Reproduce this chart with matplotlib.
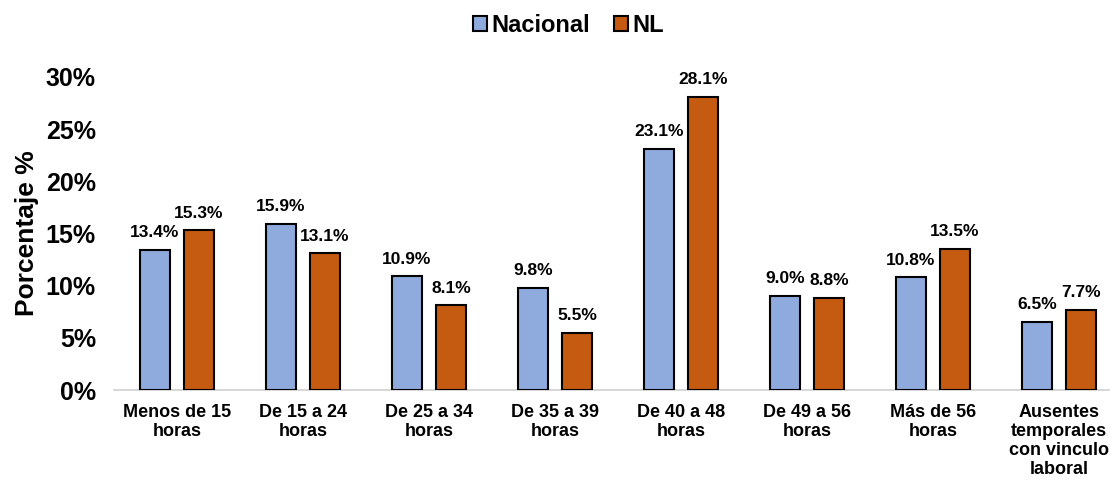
import matplotlib
matplotlib.use("Agg")
import matplotlib.pyplot as plt
import numpy as np
from matplotlib.patches import Patch

categories = ["Menos de 15\nhoras", "De 15 a 24\nhoras", "De 25 a 34\nhoras", "De 35 a 39\nhoras",
              "De 40 a 48\nhoras", "De 49 a 56\nhoras", "Más de 56\nhoras",
              "Ausentes\ntemporales\ncon vinculo\nlaboral"]
nacional = [13.4, 15.9, 10.9, 9.8, 23.1, 9.0, 10.8, 6.5]
nl = [15.3, 13.1, 8.1, 5.5, 28.1, 8.8, 13.5, 7.7]
yticks = [0, 5, 10, 15, 20, 25, 30]

plt.rcParams['font.family'] = ['Liberation Sans', 'DejaVu Sans']
fig = plt.figure(figsize=(11.1, 4.82), dpi=100)
ax = fig.add_axes([114/1110, 1-390/482, 996/1110, (390-77)/482])

x = np.arange(len(categories))
w = 0.238
off = 0.175
c1, c2 = "#8FAADC", "#C55A11"
ax.bar(x - off, nacional, w, color=c1, edgecolor="black", linewidth=1.5, zorder=3)
ax.bar(x + off, nl, w, color=c2, edgecolor="black", linewidth=1.5, zorder=3)

for xi, v in zip(x - off, nacional):
    ax.annotate(f"{v:.1f}%", (xi, v), xytext=(0, 7), textcoords="offset points",
                ha="center", va="bottom", fontsize=12.5, fontweight="bold", annotation_clip=False)
for xi, v in zip(x + off, nl):
    ax.annotate(f"{v:.1f}%", (xi, v), xytext=(0, 7), textcoords="offset points",
                ha="center", va="bottom", fontsize=12.5, fontweight="bold", annotation_clip=False)

ax.set_xlim(-0.5, 7.405)
ax.set_ylim(0, 30)
ax.set_yticks(yticks)
ax.set_yticklabels([f"{t}%" for t in yticks], fontsize=18, fontweight="bold")
ax.set_xticks(x)
ax.set_xticklabels(categories, fontsize=13, fontweight="bold", linespacing=1.15)
ax.tick_params(axis="both", length=0)
ax.tick_params(axis="x", pad=10)
ax.tick_params(axis="y", pad=13)
for s in ["top", "right", "left"]:
    ax.spines[s].set_visible(False)
ax.spines["bottom"].set_color("#D0D0D0")
ax.spines["bottom"].set_linewidth(1.2)
ax.set_ylabel("Porcentaje %", fontsize=19, fontweight="bold", labelpad=5)

handles = [Patch(facecolor=c1, edgecolor="black", linewidth=1.5, label="Nacional"),
           Patch(facecolor=c2, edgecolor="black", linewidth=1.5, label="NL")]
fig.legend(handles=handles, loc="center", bbox_to_anchor=(0.512, 1-25/482), ncol=2, frameon=False,
           prop={"size": 17, "weight": "bold"}, handlelength=0.6, handleheight=0.6,
           handletextpad=0.2, columnspacing=1.0)

fig.savefig("out.png", dpi=100)
